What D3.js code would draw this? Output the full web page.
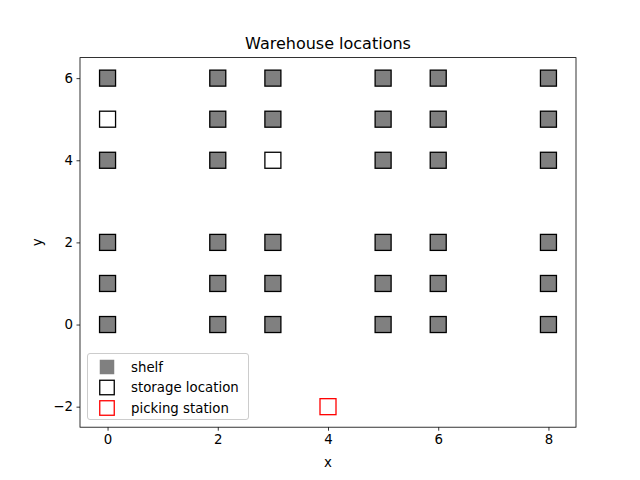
<!doctype html>
<html>
  <head>
    <script src="https://cdnjs.cloudflare.com/ajax/libs/d3/7.8.5/d3.min.js"></script>
    <style>
      body { margin: 0; background: #fff; }
      svg { font-family: "DejaVu Sans", sans-serif; }
      .tick text { font-size: 13.33px; fill: #000; font-family: "DejaVu Sans", sans-serif; }
      rect.shelf { fill: #808080; stroke: #000; stroke-width: 1.3; }
      rect.storage { fill: #fff; stroke: #000; stroke-width: 1.3; }
      rect.picking { fill: #fff; stroke: #ff0000; stroke-width: 1.3; }
    </style>
  </head>
  <body>
    <svg width="640" height="480"></svg>
    <script>
      // data
      var shelfX = [0, 2, 3, 5, 6, 8];
      var shelfY = [0, 1, 2, 4, 5, 6];
      var storage = [[0, 5], [3, 4]];
      var picking = [[4, -2]];
      var xTicks = [0, 2, 4, 6, 8];
      var yTicks = [-2, 0, 2, 4, 6];
      var legendItems = ["shelf", "storage location", "picking station"];

      var shelves = [];
      shelfY.forEach(v => shelfX.forEach(u => {
        if (!storage.some(s => s[0] === u && s[1] === v)) shelves.push([u, v]);
      }));

      var mLeft = 80, mRight = 576, mTop = 57.6, mBottom = 427.2;
      var x = d3.scaleLinear().domain([-0.5, 8.5]).range([mLeft, mRight]);
      var y = d3.scaleLinear().domain([-2.5, 6.5]).range([mBottom, mTop]);
      var svg = d3.select("svg");
      var ms = 16;

      function squares(data, cls) {
        svg.append("g").selectAll("rect").data(data).enter()
          .append("rect")
            .attr("class", cls)
            .attr("x", d => x(d[0]) - ms / 2)
            .attr("y", d => y(d[1]) - ms / 2)
            .attr("width", ms)
            .attr("height", ms);
      }
      squares(shelves, "shelf");
      squares(storage, "storage");
      squares(picking, "picking");

      var xAxis = svg.append("g").attr("transform", "translate(0," + mBottom + ")")
        .call(d3.axisBottom(x).tickValues(xTicks).tickSize(3.5).tickPadding(3.5).tickFormat(d3.format("d")));
      var yAxis = svg.append("g").attr("transform", "translate(" + mLeft + ",0)")
        .call(d3.axisLeft(y).tickValues(yTicks).tickSize(3.5).tickPadding(3.5).tickFormat(d => d < 0 ? "\u2212" + (-d) : d));
      [xAxis, yAxis].forEach(a => {
        a.attr("font-family", null).attr("font-size", null);
        a.select(".domain").remove();
        a.selectAll(".tick line").attr("stroke", "#000").attr("stroke-width", 0.8);
      });

      svg.append("rect")
        .attr("x", mLeft).attr("y", mTop)
        .attr("width", mRight - mLeft).attr("height", mBottom - mTop)
        .attr("fill", "none").attr("stroke", "#000").attr("stroke-width", 0.8);

      svg.append("text").attr("x", (mLeft + mRight) / 2).attr("y", 49)
        .attr("text-anchor", "middle").attr("font-size", 16).text("Warehouse locations");
      svg.append("text").attr("x", (mLeft + mRight) / 2).attr("y", 467)
        .attr("text-anchor", "middle").attr("font-size", 13.33).text("x");
      svg.append("text").attr("transform", "translate(42," + (mTop + mBottom) / 2 + ") rotate(-90)")
        .attr("text-anchor", "middle").attr("font-size", 13.33).text("y");

      // legend
      var lg = svg.append("g");
      lg.append("rect").attr("x", 87.5).attr("y", 353.5).attr("width", 161).attr("height", 66)
        .attr("rx", 2.5).attr("fill", "#fff").attr("fill-opacity", 0.8)
        .attr("stroke", "#cccccc").attr("stroke-width", 1);
      var legendCls = ["shelf", "storage", "picking"];
      var lms = 14.5;
      legendItems.forEach((t, i) => {
        var cy = 367 + i * 20.5;
        lg.append("rect").attr("class", legendCls[i])
          .attr("x", 107 - lms / 2).attr("y", cy - lms / 2)
          .attr("width", lms).attr("height", lms)
          .style("stroke", i === 0 ? "none" : null);
        lg.append("text").attr("x", 131).attr("y", cy + 4.8)
          .attr("font-size", 13.33).text(t);
      });
    </script>
  </body>
</html>
